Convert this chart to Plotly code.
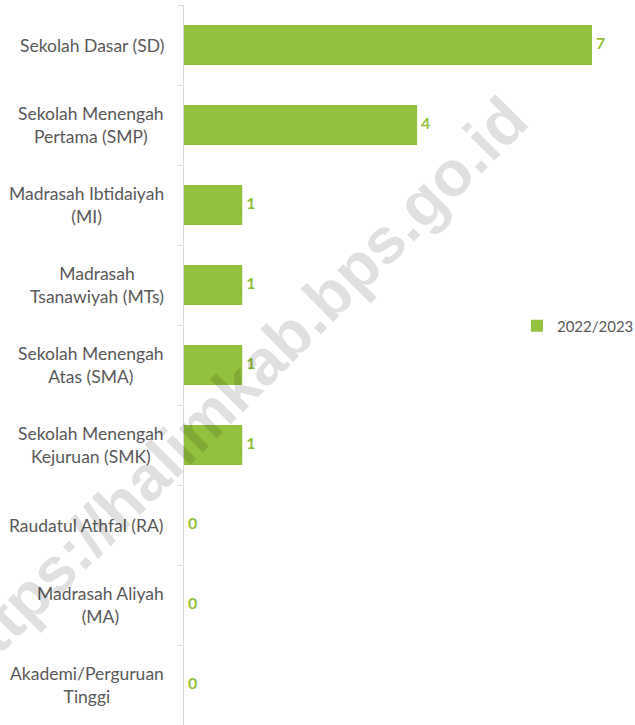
import plotly.graph_objects as go

categories = [
    "Sekolah Dasar (SD)",
    "Sekolah Menengah<br>Pertama (SMP)",
    "Madrasah Ibtidaiyah<br>(MI)",
    "Madrasah<br>Tsanawiyah (MTs)",
    "Sekolah Menengah<br>Atas (SMA)",
    "Sekolah Menengah<br>Kejuruan (SMK)",
    "Raudatul Athfal (RA)",
    "Madrasah Aliyah<br>(MA)",
    "Akademi/Perguruan<br>Tinggi",
]
values = [7, 4, 1, 1, 1, 1, 0, 0, 0]
series_name = "2022/2023"

GREEN = "#93C13E"
GREY_TXT = "#595959"
FONT = "Lato"

fig = go.Figure()
fig.add_trace(go.Bar(
    y=categories, x=values, orientation="h", name=series_name,
    marker=dict(color=GREEN, line=dict(width=0)), width=0.5,
))
fig.add_trace(go.Scatter(
    y=categories, x=values, mode="text",
    text=["\u00a0" + str(v) for v in values],
    textposition="middle right", showlegend=False, cliponaxis=False,
    textfont=dict(family=FONT, size=16, color=GREEN, weight="bold"),
    hoverinfo="skip",
))

annotations = []
for c in categories:
    annotations.append(dict(
        x=0, xref="paper", y=c, yref="y", text=c, showarrow=False,
        xanchor="right", yanchor="middle", align="center", xshift=-18,
        font=dict(family=FONT, size=17.5, color=GREY_TXT),
    ))
# watermark
annotations.append(dict(
    x=0.125, y=0.467, xref="paper", yref="paper",
    text="<b>https://halimkab.bps.go.id</b>", showarrow=False,
    textangle=-45, xanchor="center", yanchor="middle",
    font=dict(family="Liberation Sans", size=64, color="rgba(0,0,0,0.12)"),
))

fig.update_layout(
    width=635, height=725,
    margin=dict(l=184, r=43, t=5, b=0, autoexpand=False),
    plot_bgcolor="white", paper_bgcolor="white",
    showlegend=True,
    legend=dict(x=0.816, y=0.554, xanchor="left", yanchor="middle",
                font=dict(family=FONT, size=15, color=GREY_TXT),
                itemwidth=30, bgcolor="rgba(0,0,0,0)"),
    annotations=annotations,
    bargap=0.5,
)
fig.update_xaxes(range=[0, 7], visible=False)
fig.update_yaxes(
    categoryorder="array", categoryarray=categories, autorange="reversed",
    showticklabels=False, showline=True, linecolor="#D9D9D9", linewidth=1,
    ticks="outside", tickson="boundaries", ticklen=5, tickcolor="#D9D9D9",
    showgrid=False, zeroline=False, automargin=False,
)

fig.write_html("out.html", config={"displayModeBar": False},
               post_script="document.body.style.margin='0';")
